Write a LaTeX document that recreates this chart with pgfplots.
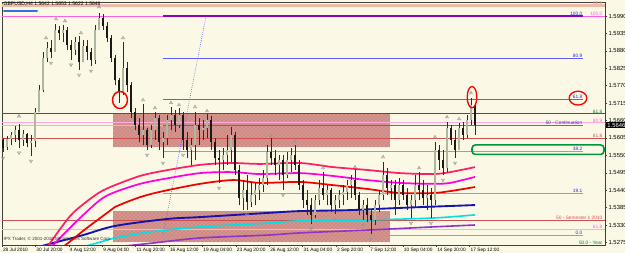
\documentclass[border=0pt]{standalone}
\usepackage{fontspec}
\setmainfont{Liberation Sans}
\usepackage{pgfplots}
\pgfplotsset{compat=1.18}
\usepackage{pgfplotstable}
\usetikzlibrary{patterns}

\definecolor{bgcream}{RGB}{251,249,230}
\definecolor{rectfill}{RGB}{206,138,132}
\definecolor{rectdots}{RGB}{236,186,182}
\definecolor{salmon}{RGB}{236,188,168}
\definecolor{fibpink}{RGB}{255,95,225}
\definecolor{lightpink}{RGB}{255,170,225}
\definecolor{fibpurple}{RGB}{140,0,200}
\definecolor{fibblue}{RGB}{95,95,245}
\definecolor{fiblav}{RGB}{150,150,240}
\definecolor{fibbluetxt}{RGB}{40,40,220}
\definecolor{fibgreen}{RGB}{10,120,70}
\definecolor{fibred}{RGB}{205,80,80}
\definecolor{macrimson}{RGB}{255,30,100}
\definecolor{mamagenta}{RGB}{255,0,230}
\definecolor{mared}{RGB}{240,0,0}
\definecolor{manavy}{RGB}{20,20,170}
\definecolor{macyan}{RGB}{0,225,225}
\definecolor{mapurple}{RGB}{145,50,200}
\definecolor{wick}{RGB}{45,45,45}
\definecolor{bull}{RGB}{175,184,156}
\definecolor{bear}{RGB}{25,25,25}
\definecolor{fractal}{RGB}{150,150,150}
\definecolor{okgreen}{RGB}{0,150,60}
\definecolor{topblue}{RGB}{50,110,230}

\pgfplotstableread{
x lo hi o c
3 1.5561 1.5605 1.5599 1.5573
7 1.5567 1.5611 1.5576 1.5602
11 1.5583 1.5624 1.5602 1.5614
15 1.5592 1.5643 1.5614 1.5630
19 1.5573 1.5649 1.5630 1.5599
23 1.5580 1.5630 1.5599 1.5618
27 1.5576 1.5621 1.5618 1.5589
31 1.5548 1.5614 1.5589 1.5595
35 1.5576 1.5700 1.5595 1.5686
39 1.5686 1.5772 1.5686 1.5757
43 1.5750 1.5877 1.5757 1.5858
47 1.5845 1.5908 1.5858 1.5889
51 1.5858 1.5915 1.5889 1.5877
55 1.5877 1.5965 1.5877 1.5946
59 1.5915 1.5959 1.5946 1.5937
63 1.5908 1.5962 1.5937 1.5946
67 1.5883 1.5956 1.5946 1.5899
71 1.5851 1.5915 1.5899 1.5883
75 1.5867 1.5924 1.5883 1.5908
79 1.5820 1.5927 1.5908 1.5845
83 1.5845 1.5915 1.5845 1.5896
87 1.5851 1.5915 1.5896 1.5877
91 1.5832 1.5889 1.5877 1.5851
95 1.5839 1.5962 1.5851 1.5946
99 1.5946 1.6000 1.5946 1.5984
103 1.5946 1.5997 1.5984 1.5959
107 1.5908 1.5971 1.5959 1.5921
111 1.5845 1.5930 1.5921 1.5858
115 1.5772 1.5867 1.5858 1.5788
119 1.5716 1.5795 1.5788 1.5750
123 1.5741 1.5908 1.5750 1.5826
127 1.5750 1.5845 1.5826 1.5772
131 1.5668 1.5782 1.5772 1.5686
135 1.5630 1.5700 1.5686 1.5646
139 1.5592 1.5668 1.5646 1.5614
143 1.5583 1.5712 1.5614 1.5630
147 1.5567 1.5637 1.5630 1.5583
151 1.5573 1.5646 1.5583 1.5630
155 1.5599 1.5686 1.5630 1.5668
159 1.5567 1.5678 1.5668 1.5592
163 1.5542 1.5624 1.5592 1.5605
167 1.5583 1.5678 1.5605 1.5662
171 1.5630 1.5703 1.5662 1.5678
175 1.5624 1.5692 1.5678 1.5646
179 1.5637 1.5700 1.5646 1.5678
183 1.5567 1.5686 1.5678 1.5599
187 1.5542 1.5624 1.5599 1.5567
191 1.5520 1.5605 1.5567 1.5583
195 1.5535 1.5686 1.5583 1.5646
199 1.5583 1.5668 1.5646 1.5630
203 1.5599 1.5662 1.5630 1.5637
207 1.5605 1.5681 1.5637 1.5662
211 1.5567 1.5674 1.5662 1.5592
215 1.5520 1.5605 1.5592 1.5542
219 1.5463 1.5567 1.5542 1.5535
223 1.5504 1.5573 1.5535 1.5551
227 1.5520 1.5614 1.5551 1.5567
231 1.5529 1.5640 1.5567 1.5614
235 1.5488 1.5624 1.5614 1.5504
239 1.5393 1.5520 1.5504 1.5415
243 1.5377 1.5472 1.5415 1.5441
247 1.5377 1.5488 1.5441 1.5403
251 1.5387 1.5466 1.5403 1.5425
255 1.5393 1.5463 1.5425 1.5441
259 1.5409 1.5479 1.5441 1.5456
263 1.5434 1.5504 1.5456 1.5479
267 1.5456 1.5583 1.5479 1.5561
271 1.5520 1.5605 1.5561 1.5542
275 1.5488 1.5567 1.5542 1.5520
279 1.5472 1.5551 1.5520 1.5535
283 1.5441 1.5551 1.5535 1.5488
287 1.5479 1.5561 1.5488 1.5535
291 1.5497 1.5573 1.5535 1.5551
295 1.5504 1.5583 1.5551 1.5520
299 1.5441 1.5535 1.5520 1.5456
303 1.5384 1.5472 1.5456 1.5409
307 1.5362 1.5441 1.5409 1.5393
311 1.5333 1.5415 1.5393 1.5362
315 1.5352 1.5425 1.5362 1.5409
319 1.5393 1.5472 1.5409 1.5447
323 1.5409 1.5497 1.5447 1.5425
327 1.5393 1.5456 1.5425 1.5441
331 1.5371 1.5447 1.5441 1.5393
335 1.5365 1.5425 1.5393 1.5409
339 1.5384 1.5441 1.5409 1.5425
343 1.5393 1.5456 1.5425 1.5434
347 1.5409 1.5472 1.5434 1.5456
351 1.5415 1.5488 1.5456 1.5472
355 1.5409 1.5504 1.5472 1.5425
359 1.5362 1.5434 1.5425 1.5377
363 1.5346 1.5409 1.5377 1.5393
367 1.5339 1.5415 1.5393 1.5362
371 1.5302 1.5377 1.5362 1.5346
375 1.5330 1.5409 1.5346 1.5393
379 1.5371 1.5441 1.5393 1.5425
383 1.5409 1.5529 1.5425 1.5488
387 1.5425 1.5510 1.5488 1.5447
391 1.5409 1.5472 1.5447 1.5456
395 1.5362 1.5472 1.5456 1.5409
399 1.5393 1.5479 1.5409 1.5456
403 1.5409 1.5472 1.5456 1.5425
407 1.5377 1.5447 1.5425 1.5393
411 1.5352 1.5425 1.5393 1.5409
415 1.5384 1.5488 1.5409 1.5456
419 1.5409 1.5497 1.5456 1.5441
423 1.5393 1.5472 1.5441 1.5415
427 1.5377 1.5456 1.5415 1.5425
431 1.5352 1.5447 1.5425 1.5409
435 1.5393 1.5592 1.5409 1.5567
439 1.5504 1.5583 1.5567 1.5535
443 1.5488 1.5567 1.5535 1.5510
447 1.5497 1.5655 1.5510 1.5637
451 1.5583 1.5646 1.5637 1.5599
455 1.5542 1.5630 1.5599 1.5567
459 1.5567 1.5652 1.5567 1.5637
463 1.5599 1.5655 1.5637 1.5614
467 1.5605 1.5678 1.5614 1.5662
471 1.5646 1.5731 1.5662 1.5709
475 1.5614 1.5716 1.5709 1.5646
}\candles

\tikzset{lbl/.style={font=\fontsize{3.6}{4}\selectfont, inner sep=0.3pt}}
\pgfplotsset{candle/.style={only marks, mark=*, mark size=0pt, mark options={draw=none, fill=none}}}

\begin{document}
\begin{tikzpicture}
\fill[bgcream] (-1.5pt,-6pt) rectangle (467.25pt,183.75pt);
\begin{axis}[
  width=452.25pt, height=182.25pt, scale only axis,
  xmin=2, xmax=605, ymin=1.52668, ymax=1.60347,
  axis background/.style={fill=bgcream},
  axis line style={draw=black!75, line width=0.5pt},
  xtick pos=bottom, ytick pos=right,
  tick align=outside, major tick length=1.5pt,
  tick style={black!75, line width=0.4pt},
  xtick={2,35.4,68.8,102.2,135.6,169,202.4,235.8,269.2,302.6,336,369.4,402.8,436.2,469.6},
  xticklabels={28 Jul 2010,30 Jul 20:00,4 Aug 12:00,9 Aug 04:00,11 Aug 20:00,16 Aug 12:00,19 Aug 04:00,23 Aug 20:00,26 Aug 12:00,31 Aug 04:00,2 Sep 20:00,7 Sep 12:00,10 Sep 04:00,14 Sep 20:00,17 Sep 12:00},
  xticklabel style={font=\fontsize{3.6}{4}\selectfont, anchor=north west, inner sep=0.6pt},
  ytick={1.5275,1.5330,1.5385,1.5440,1.5495,1.5550,1.5605,1.5660,1.5715,1.5770,1.5825,1.5880,1.5935,1.5990},
  scaled y ticks=false,
  yticklabel style={font=\fontsize{4.4}{5}\selectfont, inner sep=1pt,
    /pgf/number format/fixed, /pgf/number format/fixed zerofill,
    /pgf/number format/precision=4, /pgf/number format/assume math mode=true},
  clip=true,
]
% zones
\addplot[draw=none, fill=rectfill] coordinates {(113,1.5681) (390,1.5681) (390,1.5576) (113,1.5576)} -- cycle;
\addplot[draw=none, pattern=crosshatch dots, pattern color=rectdots] coordinates {(113,1.5681) (390,1.5681) (390,1.5576) (113,1.5576)} -- cycle;
\addplot[draw=none, fill=rectfill] coordinates {(113,1.5374) (390,1.5374) (390,1.5276) (113,1.5276)} -- cycle;
\addplot[draw=none, pattern=crosshatch dots, pattern color=rectdots] coordinates {(113,1.5374) (390,1.5374) (390,1.5276) (113,1.5276)} -- cycle;

% full width levels
\addplot[salmon, line width=2.2pt] coordinates {(2,1.6025) (605,1.6025)};
\addplot[fibpink, line width=0.7pt] coordinates {(2,1.5990) (605,1.5990)};
\addplot[fibgreen, line width=0.8pt] coordinates {(2,1.5681) (605,1.5681)};
\addplot[lightpink, line width=0.7pt] coordinates {(2,1.5653) (605,1.5653)};
\addplot[fiblav!60, line width=0.6pt] coordinates {(2,1.5645) (163,1.5645)};
\addplot[fibred, line width=0.5pt] coordinates {(2,1.5605) (605,1.5605)};
\addplot[fibred, line width=0.5pt] coordinates {(2,1.5346) (605,1.5346)};
\addplot[lightpink, line width=0.8pt] coordinates {(2,1.5317) (605,1.5317)};

% fibonacci (blue) levels
\addplot[fibpurple, line width=1.0pt] coordinates {(163,1.5990) (583,1.5990)};
\addplot[fibblue, line width=0.6pt] coordinates {(163,1.5858) (583,1.5858)};
\addplot[fibblue, line width=0.6pt] coordinates {(163,1.5726) (583,1.5726)};
\addplot[fibblue, line width=0.6pt] coordinates {(163,1.5644) (583,1.5644)};
\addplot[fiblav, line width=0.9pt] coordinates {(163,1.5562) (583,1.5562)};
\addplot[fiblav, line width=0.9pt] coordinates {(163,1.5430) (583,1.5430)};
\addplot[fiblav, line width=0.9pt] coordinates {(163,1.5298) (583,1.5298)};
\addplot[fibblue, densely dotted, line width=0.5pt] coordinates {(163,1.5298) (206,1.5990)};

% moving averages
\addplot[mapurple, line width=1.2pt, smooth] coordinates {(87,1.5251) (153,1.5273) (200,1.5289) (267,1.5298) (300,1.5305) (367,1.5314) (433,1.5324) (475,1.5330)};
\addplot[macyan, line width=1.2pt, smooth] coordinates {(72,1.5251) (97,1.5273) (115,1.5289) (150,1.5308) (200,1.5324) (267,1.5336) (300,1.5343) (367,1.5346) (433,1.5352) (475,1.5362)};
\addplot[manavy, line width=1.4pt, smooth] coordinates {(27,1.5251) (53,1.5273) (83,1.5298) (115,1.5327) (167,1.5349) (200,1.5355) (267,1.5368) (300,1.5374) (350,1.5377) (400,1.5384) (475,1.5393)};
\addplot[mared, line width=1.3pt, smooth] coordinates {(59,1.5251) (68,1.5273) (87,1.5321) (107,1.5368) (115,1.5387) (140,1.5418) (163,1.5437) (200,1.5460) (233,1.5472) (260,1.5463) (300,1.5466) (333,1.5456) (367,1.5444) (400,1.5431) (433,1.5431) (450,1.5437) (475,1.5450)};
\addplot[mamagenta, line width=1.3pt, smooth] coordinates {(48,1.5251) (55,1.5273) (77,1.5343) (100,1.5409) (115,1.5434) (140,1.5460) (163,1.5475) (200,1.5494) (233,1.5497) (260,1.5491) (300,1.5494) (333,1.5485) (367,1.5472) (400,1.5463) (433,1.5460) (450,1.5463) (475,1.5482)};
\addplot[macrimson, line width=1.3pt, smooth] coordinates {(45,1.5251) (50,1.5273) (70,1.5358) (85,1.5400) (100,1.5434) (115,1.5456) (140,1.5485) (163,1.5501) (200,1.5520) (230,1.5526) (260,1.5523) (300,1.5526) (333,1.5513) (367,1.5504) (400,1.5494) (433,1.5491) (450,1.5497) (475,1.5513)};

% candles
\addplot[candle, error bars/.cd, y dir=plus, y explicit, error mark=none,
  error bar style={line width=0.55pt, draw=wick}]
  table[x=x, y=lo, y error plus expr=\thisrow{hi}-\thisrow{lo}] {\candles};
\addplot[candle, restrict expr to domain={\thisrow{c}-\thisrow{o}}{0:1},
  error bars/.cd, y dir=plus, y explicit, error mark=none,
  error bar style={line width=1.7pt, draw=bull}]
  table[x=x, y=o, y error plus expr=\thisrow{c}-\thisrow{o}] {\candles};
\addplot[candle, restrict expr to domain={\thisrow{o}-\thisrow{c}}{0.00001:1},
  error bars/.cd, y dir=plus, y explicit, error mark=none,
  error bar style={line width=1.7pt, draw=bear}]
  table[x=x, y=c, y error plus expr=\thisrow{o}-\thisrow{c}] {\candles};

% fractals
\addplot[only marks, mark=triangle, mark size=1.3pt, mark options={draw=fractal, line width=0.4pt}] coordinates {
(19,1.5674) (46,1.5921) (56,1.5981) (65,1.5975) (81,1.5937) (99,1.6019) (123,1.5921) (143,1.5725) (155,1.5700) (171,1.5716) (179,1.5709) (195,1.5703) (207,1.5690) (271,1.5611) (295,1.5595) (323,1.5510) (355,1.5513) (383,1.5545) (419,1.5510) (435,1.5608) (447,1.5671) (459,1.5665) (471,1.5747)};
\addplot[only marks, mark=triangle, mark size=1.3pt, mark options={draw=fractal, line width=0.4pt, rotate=180}] coordinates {
(3,1.5542) (19,1.5558) (31,1.5532) (51,1.5842) (71,1.5836) (79,1.5804) (91,1.5817) (147,1.5551) (163,1.5526) (183,1.5551) (219,1.5447) (247,1.5362) (283,1.5425) (311,1.5317) (335,1.5349) (363,1.5330) (371,1.5286) (411,1.5336) (431,1.5336) (443,1.5472) (455,1.5526)};

% annotations
\draw[red, line width=1.1pt] (axis cs:120,1.5725) ellipse [x radius=5.6pt, y radius=6.4pt];
\draw[red, line width=1.0pt] (axis cs:472,1.5734) ellipse [x radius=3.6pt, y radius=8pt];
\draw[red, line width=1.0pt] (axis cs:578,1.5731) ellipse [x radius=6.6pt, y radius=5.2pt];
\draw[okgreen, line width=1.2pt, rounded corners=2.5pt] (axis cs:472,1.5583) rectangle (axis cs:604,1.5553);

% level labels
\node[lbl, text=fibbluetxt, anchor=south east] at (axis cs:583,1.5990) {100.0};
\node[lbl, text=fibbluetxt, anchor=south east] at (axis cs:583,1.5858) {80.9};
\node[lbl, text=fibbluetxt, anchor=south east] at (axis cs:583,1.5726) {61.8};
\node[lbl, text=fibbluetxt, anchor=south east] at (axis cs:583,1.5644) {50 - Continuation};
\node[lbl, text=fibbluetxt, anchor=south east] at (axis cs:583,1.5562) {38.2};
\node[lbl, text=fibbluetxt, anchor=south east] at (axis cs:583,1.5430) {19.1};
\node[lbl, text=fibbluetxt, anchor=south east] at (axis cs:583,1.5298) {0.0};
\node[lbl, text=salmon!80!red, anchor=south east] at (axis cs:603,1.6025) {88.6};
\node[lbl, text=fibpink, anchor=south east] at (axis cs:603,1.5990) {100.0};
\node[lbl, text=fibgreen, anchor=south east] at (axis cs:603,1.5681) {61.8};
\node[lbl, text=fibpink, anchor=south east] at (axis cs:603,1.5653) {80.9};
\node[lbl, text=fibred, anchor=south east] at (axis cs:603,1.5605) {61.8};
\node[lbl, text=fibred, anchor=south east] at (axis cs:603,1.5346) {50 - Semester 1 2010};
\node[lbl, text=fibpink, anchor=south east] at (axis cs:603,1.5317) {61.8};
\node[lbl, text=fibgreen, anchor=east] at (axis cs:603,1.5273) {50.0 - Year};

% header and footer
\node[lbl, anchor=west, text=black, font=\fontsize{3.8}{4}\selectfont] at (axis cs:3,1.6027) {GBPUSD,H4 1.5642 1.5653 1.5622 1.5646};
\draw[topblue, line width=1.5pt, line cap=round] (axis cs:4,1.6005) -- (axis cs:37,1.6005);
\node[lbl, anchor=west, text=black!80, font=\fontsize{3.4}{4}\selectfont] at (axis cs:3,1.5286) {IPX Trader, © 2001-2010 MetaQuotes Software Corp.};
\coordinate (tag) at (axis cs:605,1.5646);
\end{axis}
\node[fill=black, text=white, anchor=west, inner xsep=1pt, inner ysep=1pt, font=\fontsize{4.4}{5}\selectfont] at ([xshift=0.6pt]tag) {1.5646};
\pgfresetboundingbox
\path[use as bounding box] (-1.5pt,-6pt) rectangle (467.25pt,183.75pt);
\end{tikzpicture}
\end{document}
